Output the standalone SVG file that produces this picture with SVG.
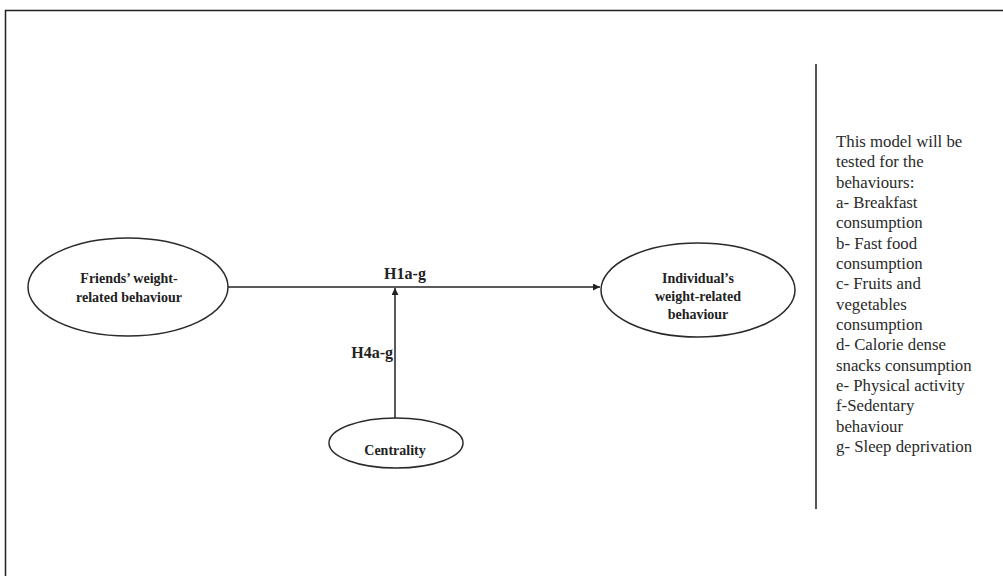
<svg xmlns="http://www.w3.org/2000/svg" width="1003" height="576" viewBox="0 0 1003 576">
<style>
.node{fill:#fff;stroke:#2a2a2a;stroke-width:1.5}
.lbl{font-family:"Liberation Serif",serif;font-weight:bold;font-size:14px;fill:#222;text-anchor:middle}
.hyp{font-family:"Liberation Serif",serif;font-weight:bold;font-size:16px;fill:#222}
.conn{stroke:#222;stroke-width:1.5;fill:none}
.note{font-family:"Liberation Serif",serif;font-size:16.8px;fill:#2a2a2a}
</style>
<defs>
<marker id="arr" viewBox="0 0 10 10" refX="10" refY="5" markerWidth="7" markerHeight="7" markerUnits="userSpaceOnUse" orient="auto">
<path d="M0,0 L10,5 L0,10 z" fill="#222"/>
</marker>
</defs>
<rect x="5.5" y="10.5" width="1100" height="700" fill="#fff" stroke="#222" stroke-width="1.5"/>
<g id="connectors">
<line class="conn" x1="228" y1="287" x2="600" y2="287" marker-end="url(#arr)"/>
<line class="conn" x1="395" y1="418" x2="395" y2="288" marker-end="url(#arr)"/>
<text class="hyp" x="405" y="279" text-anchor="middle">H1a-g</text>
<text class="hyp" x="393" y="358" text-anchor="end">H4a-g</text>
</g>
<g id="friends">
<ellipse class="node" cx="128" cy="287" rx="100" ry="49"/>
<text class="lbl" x="129" y="283">Friends’ weight-</text>
<text class="lbl" x="129" y="302">related behaviour</text>
</g>
<g id="individual">
<ellipse class="node" cx="698" cy="290" rx="97" ry="47"/>
<text class="lbl" x="698" y="283">Individual’s</text>
<text class="lbl" x="698" y="301">weight-related</text>
<text class="lbl" x="698" y="319">behaviour</text>
</g>
<g id="centrality">
<ellipse class="node" cx="396" cy="443" rx="67" ry="25"/>
<text class="lbl" x="395" y="455">Centrality</text>
</g>
<line x1="816" y1="64" x2="816" y2="509" stroke="#555" stroke-width="2"/>
<g id="note">
<text class="note" x="836" y="147">This model will be</text>
<text class="note" x="836" y="167">tested for the</text>
<text class="note" x="836" y="188">behaviours:</text>
<text class="note" x="836" y="208">a- Breakfast</text>
<text class="note" x="836" y="228">consumption</text>
<text class="note" x="836" y="249">b- Fast food</text>
<text class="note" x="836" y="269">consumption</text>
<text class="note" x="836" y="289">c- Fruits and</text>
<text class="note" x="836" y="310">vegetables</text>
<text class="note" x="836" y="330">consumption</text>
<text class="note" x="836" y="350">d- Calorie dense</text>
<text class="note" x="836" y="371">snacks consumption</text>
<text class="note" x="836" y="391">e- Physical activity</text>
<text class="note" x="836" y="411">f-Sedentary</text>
<text class="note" x="836" y="432">behaviour</text>
<text class="note" x="836" y="452">g- Sleep deprivation</text>
</g>
</svg>
